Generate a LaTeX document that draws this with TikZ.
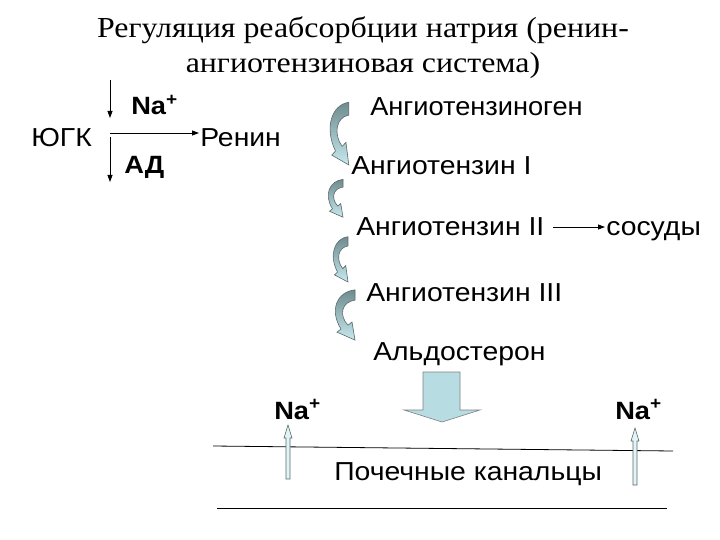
\documentclass[tikz,border=0pt]{standalone}
\usepackage{fontspec}
\setmainfont{Liberation Serif}
\newfontfamily\arial{Liberation Sans}
\usepackage{tikz}
\usetikzlibrary{arrows.meta}
\definecolor{arrowtop}{HTML}{6F8B8E}
\definecolor{arrowbot}{HTML}{C6EAEE}
\definecolor{bigarrow}{HTML}{B7DDE3}
\definecolor{edgegray}{HTML}{5A6A6C}
\tikzset{
  lab/.style={font=\arial\fontsize{26}{30}\selectfont,inner sep=1pt,anchor=base west,xscale=1.09},
  labbold/.style={lab,font=\arial\bfseries\fontsize{25}{30}\selectfont},
  ttl/.style={font=\fontsize{29}{35}\selectfont,inner sep=0pt,anchor=base,xscale=1.1},
  thinarrow/.style={line width=0.8pt,-{Triangle[length=7pt,width=5pt]}},
  arrowline/.style={draw=edgegray,line width=0.6pt},
  curvarrow/.pic={
    \path[arrowline,top color=arrowtop,bottom color=arrowbot]
      (24,2) .. controls (6,4) and (-2,24) .. (10,44) -- (6,47.5) -- (24,56)
      -- (21,36.5) -- (17,40) .. controls (8,30) and (10,15) .. (24,13) -- cycle;
  }
}
\begin{document}
\begin{tikzpicture}[x=1pt,y=-1pt]
    \useasboundingbox (0,0) rectangle (720,540);
    % title
    \node[ttl] (title1) at (363,38) {Регуляция реабсорбции натрия (ренин-};
    \node[ttl] (title2) at (363,73) {ангиотензиновая система)};
    % juxtaglomerular part
    \node[lab] (yugk) at (30,147) {ЮГК};
    \node[labbold] (naTop) at (130,115) {Na\textsuperscript{+}};
    \node[labbold] (ad) at (123,174) {АД};
    \node[lab] (renin) at (199,147) {Ренин};
    \coordinate (naStart) at (110,80);
    \coordinate (naEnd) at (110,118);
    \coordinate (adStart) at (110,137);
    \coordinate (adEnd) at (110,182);
    \coordinate (jgMid) at (110,133);
    \draw[thinarrow] (naStart) -- (naEnd);
    \draw[thinarrow] (adStart) -- (adEnd);
    \draw[thinarrow] (jgMid) -- (jgMid -| renin.west);
    % cascade
    \node[lab,xscale=0.96] (angGen) at (369,116) {Ангиотензиноген};
    \node[lab] (ang1) at (350,175) {Ангиотензин I};
    \node[lab] (ang2) at (355,236) {Ангиотензин II};
    \node[lab] (sosudy) at (605,236) {сосуды};
    \node[lab] (ang3) at (365,301) {Ангиотензин III};
    \node[lab] (aldo) at (372,360) {Альдостерон};
    \coordinate (vesStart) at (553,227);
    \draw[thinarrow] (vesStart) -- (vesStart -| sosudy.west);
    \pic[xscale=0.95,yscale=1.16] at (326,100) {curvarrow};
    \pic[xscale=0.75,yscale=0.7] at (325,178) {curvarrow};
    \pic[xscale=0.75,yscale=0.84] at (330,235) {curvarrow};
    \pic[xscale=1.0,yscale=0.93] at (331,288) {curvarrow};
    % big arrow
    \draw[draw=gray,line width=0.6pt,fill=bigarrow] (423,372) -- (460,372) -- (460,410)
      -- (480,410) -- (442,422) -- (404,410) -- (423,410) -- cycle;
    % tubule
    \node[labbold] (naLeft) at (273,419) {Na\textsuperscript{+}};
    \node[labbold] (naRight) at (614,419) {Na\textsuperscript{+}};
    \node[lab] (kanaltsy) at (333,480) {Почечные канальцы};
    \draw[line width=0.8pt] (213,446) -- (673,451);
    \draw[line width=0.8pt] (217,508) -- (667,508);
    \draw[arrowline,fill=arrowbot!50] (286,479) -- (286,438) -- (284,438) -- (288,425)
      -- (292,438) -- (290,438) -- (290,479) -- cycle;
    \draw[arrowline,fill=arrowbot!50] (633,485) -- (633,441) -- (631,441) -- (635,428)
      -- (639,441) -- (637,441) -- (637,485) -- cycle;
  \end{tikzpicture}
\end{document}
